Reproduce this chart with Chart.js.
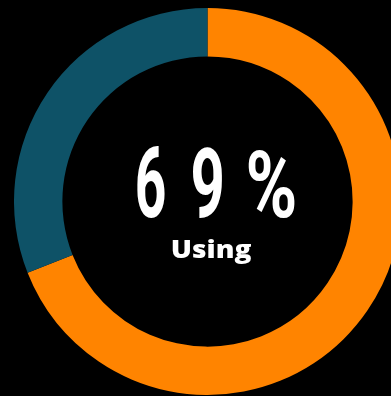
<!DOCTYPE html>
<html>
<head>
<meta charset="utf-8">
<script src="https://cdn.jsdelivr.net/npm/chart.js@4/dist/chart.umd.min.js"></script>
<style>
  html, body { margin: 0; padding: 0; background: #000; overflow: hidden; }
  body { width: 391px; height: 396px; position: relative; }
  #wrap { position: absolute; left: 14px; top: 8px; width: 387px; height: 387px; }
</style>
</head>
<body>
<div id="wrap"><canvas id="usageChart" width="387" height="387"></canvas></div>
<script>
const labels = ['Using', 'Not using'];
const values = [69, 31];
const colors = ['#ff8400', '#0e5267'];

// draws text squeezed/stretched into a given box (digits are a narrow DIN-like face)
function drawFitted(ctx, txt, cx, baseline, h, w, font) {
    let size = 100;
    ctx.font = font.replace('SIZE', size + 'px');
    let m = ctx.measureText(txt);
    size = size * h / m.actualBoundingBoxAscent;
    ctx.font = font.replace('SIZE', size + 'px');
    m = ctx.measureText(txt);
    const gw = m.actualBoundingBoxLeft + m.actualBoundingBoxRight;
    const sx = w / gw;
    ctx.save();
    ctx.translate(cx, baseline);
    ctx.scale(sx, 1);
    ctx.textAlign = 'left';
    ctx.textBaseline = 'alphabetic';
    ctx.fillText(txt, -gw / 2 + m.actualBoundingBoxLeft, 0);
    ctx.restore();
}

const centerText = {
    id: 'centerText',
    afterDraw(chart) {
        const ctx = chart.ctx;
        const arc = chart.getDatasetMeta(0).data[0];
        const x = arc.x, y = arc.y;
        ctx.save();
        ctx.fillStyle = '#ffffff';
        const txt = values[0] + '%';
        const big = 'bold SIZE Roboto';
        drawFitted(ctx, txt[0], x - 56.5, y + 15.5, 71, 28, big);
        drawFitted(ctx, txt[1], x + 0, y + 15.5, 71, 29, big);
        drawFitted(ctx, txt[2], x + 64, y + 15.5, 67, 46, big);
        drawFitted(ctx, labels[0], x + 4.5, y + 56.5, 18.5, 80, '800 SIZE "Open Sans"');
        ctx.restore();
    }
};

const usageChart = new Chart(document.getElementById('usageChart').getContext('2d'), {
    type: 'doughnut',
    data: {
        labels: labels,
        datasets: [{
            data: values,
            backgroundColor: colors,
            borderWidth: 0
        }]
    },
    options: {
        responsive: false,
        animation: false,
        cutout: '75%',
        layout: { padding: 0 },
        plugins: {
            legend: { display: false },
            tooltip: { enabled: false },
            title: { display: false }
        }
    },
    plugins: [centerText]
});
</script>
</body>
</html>
